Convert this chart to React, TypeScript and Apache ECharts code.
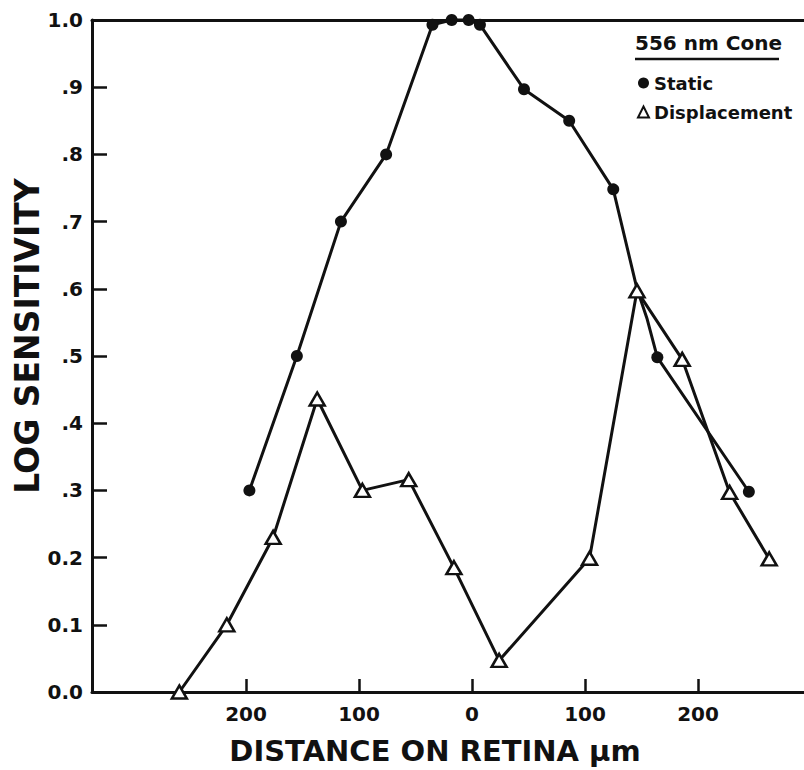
import React, { useEffect, useRef } from "react";
import * as echarts from "echarts";

// ---- data ----
const staticX = [-197, -155, -116, -76, -35, -18, -3, 7, 46, 86, 125, 146, 155, 164, 245];
const staticY = [0.3, 0.5, 0.7, 0.8, 0.993, 1.0, 1.0, 0.993, 0.897, 0.85, 0.748, 0.6, 0.555, 0.498, 0.298];
const staticMarked = [true, true, true, true, true, true, true, true, true, true, true, false, false, true, true];

const dispX = [-259, -217, -176, -137, -97, -56, -16, 24, 104, 146, 186, 228, 263];
const dispY = [0.0, 0.1, 0.23, 0.436, 0.3, 0.316, 0.185, 0.047, 0.199, 0.597, 0.495, 0.297, 0.198];

const xTickValues = [-200, -100, 0, 100, 200];
const yTickLabels = ["0.0", "0.1", "0.2", ".3", ".4", ".5", ".6", ".7", ".8", ".9", "1.0"];

const FONT = "DejaVu Sans";
const INK = "#111";

export default function App() {
  const ref = useRef<HTMLDivElement>(null);
  useEffect(() => {
    document.body.style.margin = "0";
    if (!ref.current) return;
    const chart = echarts.init(ref.current, undefined, { renderer: "svg" });
    const xMin = -336.3;
    const xMax = 293.8;
    const option = {
      animation: false,
      backgroundColor: "#fff",
      grid: { left: 92, top: 20, right: 0, bottom: 73, containLabel: false },
      xAxis: [
        {
          type: "value",
          min: xMin,
          max: xMax,
          name: "DISTANCE ON RETINA \u00b5m",
          nameLocation: "middle",
          nameGap: 44,
          nameTextStyle: { fontFamily: FONT, fontWeight: "bold", fontSize: 29, color: INK, padding: [0, 26, 0, 0] },
          axisLine: { show: true, onZero: false, lineStyle: { color: INK, width: 3 } },
          axisTick: { show: true, inside: true, length: 13, customValues: xTickValues, lineStyle: { color: INK, width: 2.5 } },
          axisLabel: {
            customValues: xTickValues,
            margin: 12,
            fontFamily: FONT,
            fontWeight: "bold",
            fontSize: 20,
            color: INK,
            formatter: (v: number) => String(Math.abs(Math.round(v))),
          },
          splitLine: { show: false },
        },
        {
          type: "value",
          position: "top",
          min: xMin,
          max: xMax,
          axisLine: { show: true, onZero: false, lineStyle: { color: INK, width: 3 } },
          axisTick: { show: false },
          axisLabel: { show: false },
          splitLine: { show: false },
        },
      ],
      yAxis: {
        type: "value",
        min: 0,
        max: 1,
        interval: 0.1,
        name: "LOG SENSITIVITY",
        nameLocation: "middle",
        nameGap: 48,
        nameMoveOverlap: false,
        nameTextStyle: { fontFamily: FONT, fontWeight: "bold", fontSize: 33, color: INK, padding: [0, 0, 0, 40] },
        axisLine: { show: true, onZero: false, lineStyle: { color: INK, width: 3 } },
        axisTick: { show: true, inside: true, length: 15, lineStyle: { color: INK, width: 2.5 } },
        axisLabel: {
          margin: 9,
          fontFamily: FONT,
          fontWeight: "bold",
          fontSize: 20,
          color: INK,
          formatter: (v: number) => yTickLabels[Math.round(v * 10)] ?? "",
        },
        splitLine: { show: false },
      },
      legend: {
        orient: "vertical",
        left: 632,
        top: 68,
        itemWidth: 11,
        itemHeight: 11,
        itemGap: 9,
        textStyle: { fontFamily: FONT, fontWeight: "bold", fontSize: 18, color: INK, lineHeight: 20 },
        data: [
          { name: "Static", icon: "circle" },
          { name: "Displacement", icon: "triangle" },
        ],
      },
      graphic: [
        {
          type: "text",
          left: 635,
          top: 33,
          style: { text: "556 nm Cone", fontFamily: FONT, fontWeight: "bold", fontSize: 20, fill: INK },
        },
        {
          type: "line",
          shape: { x1: 635, y1: 59, x2: 779, y2: 59 },
          style: { stroke: INK, lineWidth: 2.5 },
        },
      ],
      series: [
        {
          name: "Static",
          type: "line",
          xAxisIndex: 0,
          symbol: "circle",
          symbolSize: 12,
          lineStyle: { color: INK, width: 3 },
          itemStyle: { color: INK, borderColor: INK, borderWidth: 0 },
          data: staticX.map((x, i) =>
            staticMarked[i] ? { value: [x, staticY[i]] } : { value: [x, staticY[i]], symbol: "none" }
          ),
          clip: false,
          z: 2,
        },
        {
          name: "Displacement",
          type: "line",
          xAxisIndex: 0,
          symbol: "triangle",
          symbolSize: [15, 13],
          lineStyle: { color: INK, width: 3 },
          itemStyle: { color: "#fff", borderColor: INK, borderWidth: 2.5 },
          data: dispX.map((x, i) => [x, dispY[i]]),
          clip: false,
          z: 3,
        },
      ],
    };
    chart.setOption(option as any);
    return () => chart.dispose();
  }, []);
  return <div ref={ref} style={{ width: 804, height: 770 }} />;
}
